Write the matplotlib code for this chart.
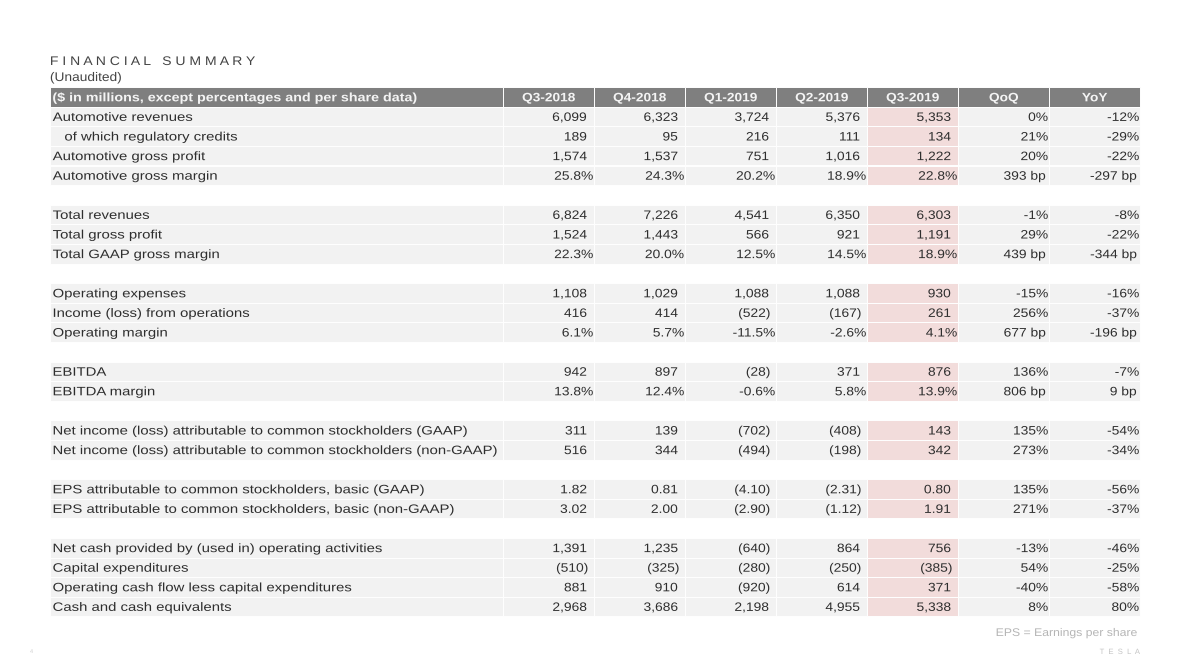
import matplotlib.pyplot as plt
from matplotlib.patches import Rectangle
from matplotlib.patheffects import AbstractPathEffect
from matplotlib.transforms import Affine2D

# table content
header_label = "($ in millions, except percentages and per share data)"
columns = ["Q3-2018", "Q4-2018", "Q1-2019", "Q2-2019", "Q3-2019", "QoQ", "YoY"]

row_labels = [
    "Automotive revenues",
    "of which regulatory credits",
    "Automotive gross profit",
    "Automotive gross margin",
    "Total revenues",
    "Total gross profit",
    "Total GAAP gross margin",
    "Operating expenses",
    "Income (loss) from operations",
    "Operating margin",
    "EBITDA",
    "EBITDA margin",
    "Net income (loss) attributable to common stockholders (GAAP)",
    "Net income (loss) attributable to common stockholders (non-GAAP)",
    "EPS attributable to common stockholders, basic (GAAP)",
    "EPS attributable to common stockholders, basic (non-GAAP)",
    "Net cash provided by (used in) operating activities",
    "Capital expenditures",
    "Operating cash flow less capital expenditures",
    "Cash and cash equivalents",
]
indented = ["of which regulatory credits"]
group_sizes = [4, 3, 3, 2, 2, 2, 4]

q3_2018 = ["6,099", "189", "1,574", "25.8%", "6,824", "1,524", "22.3%",
           "1,108", "416", "6.1%", "942", "13.8%", "311", "516", "1.82", "3.02",
           "1,391", "(510)", "881", "2,968"]
q4_2018 = ["6,323", "95", "1,537", "24.3%", "7,226", "1,443", "20.0%",
           "1,029", "414", "5.7%", "897", "12.4%", "139", "344", "0.81", "2.00",
           "1,235", "(325)", "910", "3,686"]
q1_2019 = ["3,724", "216", "751", "20.2%", "4,541", "566", "12.5%",
           "1,088", "(522)", "-11.5%", "(28)", "-0.6%", "(702)", "(494)", "(4.10)", "(2.90)",
           "(640)", "(280)", "(920)", "2,198"]
q2_2019 = ["5,376", "111", "1,016", "18.9%", "6,350", "921", "14.5%",
           "1,088", "(167)", "-2.6%", "371", "5.8%", "(408)", "(198)", "(2.31)", "(1.12)",
           "864", "(250)", "614", "4,955"]
q3_2019 = ["5,353", "134", "1,222", "22.8%", "6,303", "1,191", "18.9%",
           "930", "261", "4.1%", "876", "13.9%", "143", "342", "0.80", "1.91",
           "756", "(385)", "371", "5,338"]
qoq = ["0%", "21%", "20%", "393 bp", "-1%", "29%", "439 bp",
       "-15%", "256%", "677 bp", "136%", "806 bp", "135%", "273%", "135%", "271%",
       "-13%", "54%", "-40%", "8%"]
yoy = ["-12%", "-29%", "-22%", "-297 bp", "-8%", "-22%", "-344 bp",
       "-16%", "-37%", "-196 bp", "-7%", "9 bp", "-54%", "-34%", "-56%", "-37%",
       "-46%", "-25%", "-58%", "80%"]

value_cols = [q3_2018, q4_2018, q1_2019, q2_2019, q3_2019, qoq, yoy]
highlight_col = "Q3-2019"


class Stretch(AbstractPathEffect):
    """widen the glyphs a bit, the slide font is letter spaced"""

    def __init__(self, sx, anchor='left'):
        super().__init__()
        self.sx = sx
        self.anchor = anchor

    def draw_path(self, renderer, gc, tpath, affine, rgbFace=None):
        bb = tpath.get_extents(affine)
        if self.anchor == 'left':
            x0 = bb.x0
        elif self.anchor == 'right':
            x0 = bb.x1
        else:
            x0 = (bb.x0 + bb.x1) / 2
        t = affine + Affine2D().translate(-x0, 0).scale(self.sx, 1).translate(x0, 0)
        renderer.draw_path(gc, tpath, t, rgbFace)


plt.rcParams['font.family'] = ['Liberation Sans', 'DejaVu Sans']

fig = plt.figure(figsize=(12, 6.59), dpi=100)
ax = fig.add_axes([0, 0, 1, 1])
ax.set_xlim(0, 1200)
ax.set_ylim(659, 0)
ax.axis('off')

# layout in pixels
left = 50
label_w = 453.3
col_w = 91.0
top = 87.1
pitch = 19.6
fs = 8.8
base = 4.4  # baseline below row centre
text_c = '#2e2e2e'
row_bg = '#f2f2f2'
pink = '#f2dcdb'
head_bg = '#7f7f7f'


def cell(x, y, w, color):
    ax.add_patch(Rectangle((x, y), w, pitch, facecolor=color,
                           edgecolor='white', linewidth=0.7))


def put(x, y, s, ha, sx, **kw):
    ax.text(x, y, s, ha=ha, va='baseline', fontsize=kw.pop('size', fs),
            path_effects=[Stretch(sx, ha)], **kw)


# header row
cell(left, top, label_w, head_bg)
put(left + 2.5, top + pitch / 2 + base, header_label, 'left', 1.17,
    color='#f4f4f4', fontweight='bold')
for j, name in enumerate(columns):
    x0 = left + label_w + j * col_w
    cell(x0, top, col_w, head_bg)
    put(x0 + col_w / 2, top + pitch / 2 + base, name, 'center', 1.12,
        color='#f4f4f4', fontweight='bold')

# body rows, one blank row between groups
grid = 1
r = 0
for g in group_sizes:
    for _ in range(g):
        y0 = top + grid * pitch
        yb = y0 + pitch / 2 + base
        cell(left, y0, label_w, row_bg)
        lab = row_labels[r]
        pad = 14.5 if lab in indented else 2.7
        put(left + pad, yb, lab, 'left', 1.22, color=text_c)
        for j, vals in enumerate(value_cols):
            x0 = left + label_w + j * col_w
            bg = pink if columns[j] == highlight_col else row_bg
            cell(x0, y0, col_w, bg)
            v = vals[r]
            if v.endswith('%'):
                off = 1.2
            elif v.endswith('bp'):
                off = 3.5
            elif v.endswith(')'):
                off = 6.0
            else:
                off = 7.5
            put(x0 + col_w - off, yb, v, 'right', 1.13, color=text_c)
        grid += 1
        r += 1
    grid += 1

# titles and footer
put(50, 65, "F I N A N C I A L   S U M M A R Y", 'left', 1.12,
    color='#444444', size=9)
put(50, 81, "(Unaudited)", 'left', 1.1, color='#444444', size=9)
put(1138, 636, "EPS = Earnings per share", 'right', 1.1,
    color='#b5b5b5', size=8)
put(1140, 654, "T  E  S  L  A", 'right', 1.0, color='#c4c4c4', size=5.5)
put(30, 653, "4", 'left', 1.0, color='#d0d0d0', size=4)

fig.savefig('out.png', dpi=100)
